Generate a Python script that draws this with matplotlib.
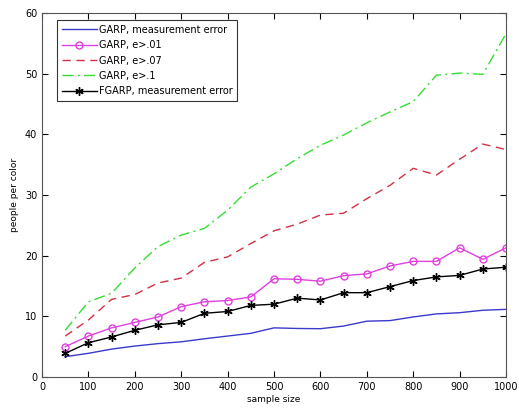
import numpy as np
import matplotlib.pyplot as plt

# sample sizes on the x axis
sizes = [50, 100, 150, 200, 250, 300, 350, 400, 450, 500,
         550, 600, 650, 700, 750, 800, 850, 900, 950, 1000]

garp_me = [3.35, 3.9, 4.6, 5.1, 5.5, 5.8, 6.3, 6.75, 7.2, 8.1,
           8.0, 7.96, 8.4, 9.2, 9.3, 9.9, 10.4, 10.6, 11.0, 11.15]
garp_01 = [5.0, 6.75, 8.1, 9.0, 9.9, 11.6, 12.4, 12.6, 13.2, 16.2,
           16.1, 15.8, 16.7, 17.0, 18.3, 19.06, 19.06, 21.3, 19.4, 21.3]
garp_07 = [6.75, 9.4, 12.8, 13.6, 15.5, 16.3, 18.9, 19.8, 22.0, 24.1,
           25.2, 26.7, 27.0, 29.4, 31.6, 34.4, 33.3, 35.9, 38.4, 37.5]
garp_1 = [7.7, 12.4, 13.8, 18.0, 21.5, 23.4, 24.5, 27.5, 31.3, 33.5,
          36.0, 38.2, 39.9, 41.9, 43.7, 45.4, 49.75, 50.1, 49.9, 56.6]
fgarp_me = [3.9, 5.65, 6.6, 7.7, 8.6, 9.0, 10.5, 10.8, 11.8, 12.0,
            13.0, 12.7, 13.9, 13.9, 14.9, 15.9, 16.5, 16.75, 17.8, 18.1]

fig = plt.figure(figsize=(5.19, 4.08), dpi=100)
ax = fig.add_axes([0.081, 0.076, 0.894, 0.892])

ax.plot(sizes, garp_me, color='#3a3acc', lw=1, label='GARP, measurement error')
ax.plot(sizes, garp_01, color='#e040e0', lw=1, marker='o', ms=5, mfc='none',
        label='GARP, e>.01')
ax.plot(sizes, garp_07, color='#d43045', lw=1, ls=(0, (6, 4)), label='GARP, e>.07')
ax.plot(sizes, garp_1, color='#33dd33', lw=1, ls=(0, (8, 3, 1.5, 3)), label='GARP, e>.1')
ax.plot(sizes, fgarp_me, color='black', lw=1, marker=(6, 2, 0), ms=6, mew=1,
        label='FGARP, measurement error')

ax.set_xlim(0, 1000)
ax.set_ylim(0, 60)
ax.set_xticks(np.arange(0, 1001, 100))
ax.set_yticks(np.arange(0, 61, 10))
ax.tick_params(direction='in', top=True, right=True, labelsize=7, length=4)
for s in ax.spines.values():
    s.set_color('#555555')

ax.set_xlabel('sample size', fontsize=6.5, labelpad=2)
ax.set_ylabel('people per color', fontsize=6.5, labelpad=4)

leg = ax.legend(loc='upper left', bbox_to_anchor=(0.032, 0.981), borderaxespad=0,
                fontsize=7, frameon=True, fancybox=False, edgecolor='black',
                handlelength=3.6, handletextpad=0.2, labelspacing=0.55, borderpad=0.5)
leg.get_frame().set_linewidth(0.8)

fig.savefig('out.png', dpi=100)
